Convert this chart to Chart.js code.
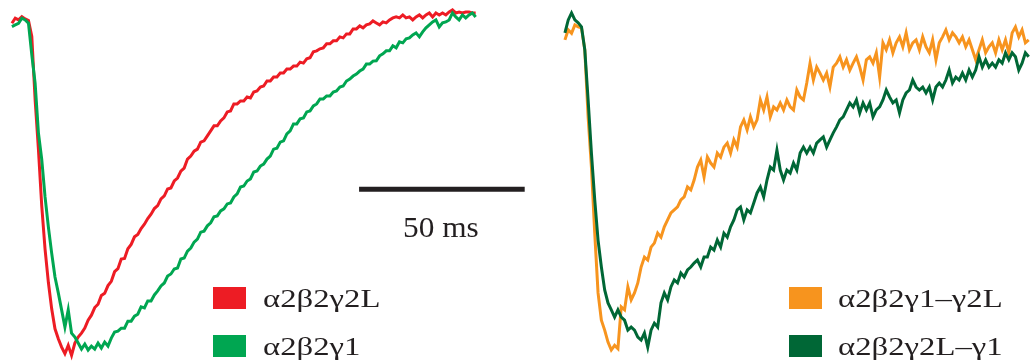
<!DOCTYPE html>
<html>
<head>
<meta charset="utf-8">
<script src="https://cdn.jsdelivr.net/npm/chart.js@4/dist/chart.umd.min.js"></script>
<style>
    body { margin: 0; background: #fff; }
    #wrap { position: relative; width: 1034px; height: 364px; overflow: hidden; font-family: "Liberation Serif", "Times New Roman", serif; color: #231f20; }
    canvas { position: absolute; top: 0; }
    .lbl { position: absolute; font-size: 26px; line-height: 26px; white-space: nowrap; transform: scaleX(1.26); transform-origin: 0 0; }
    .box { position: absolute; width: 33px; height: 22px; }
</style>
</head>
<body>
<div id="wrap">
    <canvas id="leftChart" width="530" height="364" style="left:0"></canvas>
    <canvas id="rightChart" width="481" height="364" style="left:553px"></canvas>

    <div class="lbl" style="left:403px; top:213px; font-size:29px; line-height:29px; transform:scaleX(1.08);">50 ms</div>

    <div class="box" style="left:213px; top:287px; background:#ed1c24"></div>
    <div class="lbl" style="left:263px; top:286px;">α2β2γ2L</div>
    <div class="box" style="left:213px; top:335px; background:#00a651"></div>
    <div class="lbl" style="left:263px; top:334px;">α2β2γ1</div>

    <div class="box" style="left:789px; top:287px; background:#f7941e"></div>
    <div class="lbl" style="left:838px; top:286px;">α2β2γ1–γ2L</div>
    <div class="box" style="left:789px; top:335px; background:#006736"></div>
    <div class="lbl" style="left:838px; top:334px;">α2β2γ2L–γ1</div>
</div>

<script>
// time axis, ms (same for all four traces)
const timeMs = [
    0, 1, 2, 3, 4, 5, 6, 7, 8, 9,
    10, 11, 12, 13, 14, 15, 16, 17, 18, 19,
    20, 21, 22, 23, 24, 25, 26, 27, 28, 29,
    30, 31, 32, 33, 34, 35, 36, 37, 38, 39,
    40, 41, 42, 43, 44, 45, 46, 47, 48, 49,
    50, 51, 52, 53, 54, 55, 56, 57, 58, 59,
    60, 61, 62, 63, 64, 65, 66, 67, 68, 69,
    70, 71, 72, 73, 74, 75, 76, 77, 78, 79,
    80, 81, 82, 83, 84, 85, 86, 87, 88, 89,
    90, 91, 92, 93, 94, 95, 96, 97, 98, 99,
    100, 101, 102, 103, 104, 105, 106, 107, 108, 109,
    110, 111, 112, 113, 114, 115, 116, 117, 118, 119,
    120, 121, 122, 123, 124, 125, 126, 127, 128, 129,
    130, 131, 132, 133, 134, 135, 136, 137, 138, 139,
    140
];

// normalised current (% of peak)
const g2L = [
    -1.0, 0.5, 0.0, 1.0, 0.3, -0.2, -5.0, -24.0, -39.0, -56.0,
    -69.0, -79.0, -87.0, -93.0, -96.0, -98.5, -100.5, -98.0, -101.0, -97.3,
    -95.5, -94.3, -92.8, -90.4, -88.9, -86.6, -85.6, -83.0, -82.3, -80.0,
    -78.7, -75.8, -74.9, -72.0, -71.8, -68.9, -67.6, -65.3, -64.6, -62.8,
    -61.5, -59.8, -58.5, -56.8, -55.9, -53.9, -53.0, -50.9, -50.6, -48.5,
    -47.6, -45.5, -44.6, -41.9, -41.0, -39.5, -38.9, -36.8, -36.4, -34.9,
    -33.4, -31.9, -31.9, -30.4, -29.5, -27.7, -27.4, -25.3, -25.3, -24.4,
    -24.4, -23.2, -23.5, -21.7, -21.4, -20.2, -19.9, -18.4, -18.4, -17.2,
    -17.2, -16.0, -16.0, -14.8, -14.8, -13.9, -13.9, -12.7, -13.0, -11.7,
    -11.4, -9.6, -9.3, -8.7, -8.4, -7.2, -7.2, -6.3, -6.3, -5.1,
    -5.4, -4.2, -4.2, -2.7, -2.7, -1.8, -2.4, -1.5, -1.2, -0.3,
    -0.9, -1.5, -0.6, -0.9, 0.0, 0.6, 0.9, 0.6, 1.5, 0.6,
    0.9, 0.0, 0.9, 1.5, 0.6, 1.5, 2.1, 0.9, 2.1, 1.5,
    2.1, 1.5, 2.4, 3.0, 2.1, 2.4, 2.1, 2.4, 2.4, 2.1,
    2.1
];
const g1 = [
    -2.0, -1.5, -1.0, 0.5, 0.0, -1.0, -10.5, -19.0, -34.0, -42.0,
    -53.3, -62.3, -70.2, -77.4, -82.2, -87.3, -92.5, -87.3, -94.3, -95.5,
    -97.3, -99.1, -97.6, -99.4, -98.2, -99.1, -97.3, -98.8, -97.0, -98.2,
    -95.8, -94.0, -93.7, -92.8, -92.8, -90.7, -90.7, -89.2, -88.6, -86.4,
    -86.7, -84.6, -84.6, -82.8, -81.6, -80.1, -79.2, -77.1, -76.5, -75.0,
    -74.7, -72.0, -71.7, -69.6, -68.7, -66.9, -66.0, -63.9, -63.6, -62.0,
    -61.1, -59.3, -59.0, -57.5, -56.9, -55.4, -55.1, -53.3, -52.4, -50.3,
    -50.0, -48.5, -47.9, -45.8, -45.5, -44.0, -43.4, -41.9, -41.0, -38.9,
    -38.6, -36.8, -36.4, -34.3, -33.4, -31.3, -31.3, -29.8, -29.5, -27.7,
    -27.4, -25.9, -25.3, -23.8, -23.8, -22.9, -22.9, -21.7, -21.4, -20.2,
    -19.9, -18.4, -17.8, -16.9, -16.3, -15.4, -14.8, -13.3, -13.3, -12.4,
    -12.3, -10.8, -10.2, -9.3, -9.3, -7.8, -8.4, -6.6, -6.9, -5.7,
    -5.4, -4.5, -3.9, -5.1, -3.6, -2.4, -1.5, -0.6, 0.0, -2.1,
    -0.9, -0.6, 0.0, 2.1, 0.9, 0.0, 1.5, 0.6, 1.5, 2.1,
    0.9
];
const g1to2L = [
    -6.0, -3.0, -4.0, -1.5, -2.1, -2.4, -9.0, -29.2, -44.3, -64.2,
    -82.2, -90.4, -93.4, -97.0, -99.4, -98.0, -99.0, -86.4, -87.3, -80.4,
    -84.3, -82.2, -79.2, -74.4, -71.4, -72.3, -68.4, -67.2, -64.2, -65.4,
    -62.3, -60.2, -58.1, -57.2, -56.3, -54.2, -53.3, -50.3, -51.2, -48.2,
    -44.3, -42.2, -47.3, -41.3, -43.1, -44.3, -40.1, -41.3, -38.3, -37.1,
    -40.1, -36.1, -38.3, -32.2, -30.1, -33.1, -29.2, -32.2, -30.1, -24.1,
    -27.1, -23.2, -29.2, -26.2, -27.1, -25.0, -27.1, -24.1, -26.2, -27.1,
    -21.1, -23.2, -24.1, -19.0, -13.0, -18.1, -14.2, -16.0, -18.1, -16.0,
    -20.2, -14.2, -13.0, -11.1, -14.2, -12.0, -15.1, -13.0, -11.1, -14.2,
    -18.1, -12.0, -11.1, -13.0, -9.9, -17.2, -6.9, -9.0, -6.0, -9.9,
    -6.9, -5.1, -8.1, -3.9, -9.0, -6.9, -6.0, -9.0, -5.1, -8.1,
    -9.9, -6.0, -12.0, -6.9, -5.1, -3.0, -6.0, -3.9, -5.1, -6.9,
    -5.1, -8.1, -6.0, -9.0, -12.0, -9.0, -6.0, -9.9, -8.1, -6.9,
    -9.9, -6.0, -9.0, -6.0, -9.9, -3.9, -2.1, -5.1, -3.0, -6.9,
    -6.0
];
const g2Lto1 = [
    -3.9, 0.0, 2.1, 0.0, -0.9, -2.1, -9.0, -24.1, -40.1, -54.2,
    -66.3, -74.4, -81.3, -85.2, -87.3, -89.5, -87.3, -89.5, -90.4, -93.4,
    -92.5, -93.4, -95.5, -96.4, -94.3, -98.5, -93.4, -91.3, -92.5, -85.2,
    -82.2, -84.3, -80.4, -78.3, -79.2, -76.2, -77.4, -75.3, -74.4, -73.2,
    -72.3, -74.4, -71.4, -71.4, -68.4, -69.3, -66.3, -68.4, -64.2, -65.4,
    -62.3, -60.2, -57.2, -56.3, -60.2, -57.2, -58.1, -55.1, -52.1, -50.3,
    -53.3, -48.2, -44.3, -45.2, -39.2, -45.2, -48.2, -45.2, -46.1, -43.1,
    -45.2, -40.1, -38.3, -40.1, -38.3, -40.1, -37.1, -36.1, -35.2, -38.3,
    -36.1, -34.0, -32.2, -30.1, -29.2, -27.1, -25.0, -26.2, -24.1, -28.0,
    -25.0, -27.1, -25.0, -29.2, -27.1, -26.2, -24.1, -21.1, -23.2, -25.0,
    -24.1, -28.0, -24.1, -22.0, -21.1, -18.1, -20.2, -21.1, -20.2, -22.0,
    -20.2, -24.1, -20.2, -19.0, -20.2, -18.1, -15.1, -19.0, -17.2, -18.1,
    -16.0, -18.1, -15.1, -17.2, -15.1, -11.1, -14.2, -12.0, -14.2, -13.0,
    -14.2, -12.0, -13.0, -9.9, -12.0, -9.9, -11.1, -15.1, -13.0, -9.9,
    -11.1
];

// scale bar: 50 ms
const scaleBarMs = [104.8, 154.8];
const scaleBarLevel = -51;

function toPoints(ys) {
    return ys.map(function(y, i) { return { x: timeMs[i], y: y }; });
}

function trace(label, ys, color, order) {
    return {
        label: label,
        data: toPoints(ys),
        borderColor: color,
        borderWidth: 3,
        pointRadius: 0,
        tension: 0,
        fill: false,
        order: order
    };
}

function traceOptions(xMax) {
    return {
        responsive: false,
        animation: false,
        events: [],
        layout: { padding: 0 },
        scales: {
            x: { type: 'linear', min: -3.6, max: xMax, display: false },
            y: { type: 'linear', min: -103.6, max: 6.0, display: false }
        },
        plugins: {
            legend: { display: false },
            tooltip: { enabled: false }
        }
    };
}

new Chart(document.getElementById('leftChart'), {
    type: 'line',
    data: {
        datasets: [
            trace('α2β2γ1', g1, '#00a651', 1),
            trace('α2β2γ2L', g2L, '#ed1c24', 2),
            {
                label: '50 ms',
                data: scaleBarMs.map(function(x) { return { x: x, y: scaleBarLevel }; }),
                borderColor: '#231f20',
                borderWidth: 5,
                borderCapStyle: 'butt',
                pointRadius: 0,
                order: 0
            }
        ]
    },
    options: traceOptions(156.4)
});

new Chart(document.getElementById('rightChart'), {
    type: 'line',
    data: {
        datasets: [
            trace('α2β2γ2L–γ1', g2Lto1, '#006736', 1),
            trace('α2β2γ1–γ2L', g1to2L, '#f7941e', 2)
        ]
    },
    options: traceOptions(141.6)
});
</script>
</body>
</html>
